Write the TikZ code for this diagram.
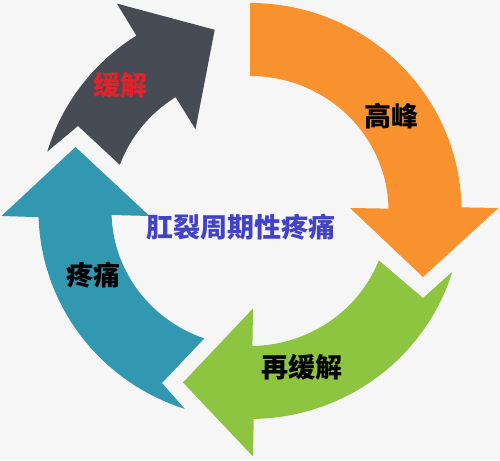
\documentclass[tikz,border=0pt]{standalone}
\usepackage{fontspec}
\newfontfamily\cjk{Noto Sans CJK SC}
\usetikzlibrary{calc}
\definecolor{bgc}{HTML}{F6F6F6}
\definecolor{orangec}{HTML}{F7922F}
\definecolor{greenc}{HTML}{8DC540}
\definecolor{tealc}{HTML}{3297B0}
\definecolor{grayc}{HTML}{464B54}
\definecolor{redc}{HTML}{E2222A}
\definecolor{titlec}{HTML}{4242C6}
\tikzset{
  lbl/.style={font=\cjk\bfseries\fontsize{27}{30}\selectfont, inner sep=0pt, text=black},
  ocirc/.style={x radius=211.5pt, y radius=208pt},
  icirc/.style={x radius=138.5pt, y radius=135pt}
}
\begin{document}
\begin{tikzpicture}[x=1pt,y=1pt]
\fill[bgc] (0,0) rectangle (500,460);
\useasboundingbox (0,0) rectangle (500,460);
\coordinate (C) at (250,249);

% orange arrow (top right, pointing down)
\fill[orangec] ($(C)+(90:211.5pt and 208pt)$)
  arc[start angle=90, end angle=1, ocirc]
  -- (498.5,252) -- (423,183) -- (350,252)
  -- ($(C)+(1:138.5pt and 135pt)$)
  arc[start angle=1, end angle=90, icirc] -- cycle;

% green arrow (bottom right, pointing left)
\fill[greenc] ($(C)+(-17:211.5pt and 208pt)$)
  arc[start angle=-17, end angle=-89, ocirc]
  -- (253,3.5) -- (183,77.5) -- (253,151.5)
  -- ($(C)+(-89:138.5pt and 135pt)$)
  arc[start angle=-89, end angle=-21.5, icirc]
  -- (423,162) -- cycle;

% teal arrow (left, pointing up)
\fill[tealc] ($(C)+(-108:211.5pt and 208pt)$)
  arc[start angle=-108, end angle=-178.3, ocirc]
  -- (1.5,244) -- (75.5,313) -- (149.5,244)
  -- ($(C)+(-178.3:138.5pt and 135pt)$)
  arc[start angle=-178.3, end angle=-109.3, icirc]
  -- (162,77) -- cycle;

% gray arrow (top left, pointing up-right)
\fill[grayc] ($(C)+(163.4:211.5pt and 208pt)$)
  arc[start angle=163.4, end angle=122.5, ocirc]
  -- (116.9,456.4) -- (214.7,430.2) -- (195.5,330.8)
  -- ($(C)+(122.5:138.5pt and 135pt)$)
  arc[start angle=122.5, end angle=160, icirc]
  -- (78,334) -- cycle;

\node[lbl, text=redc] (l1) at (120.5,374.5) {缓解};
\node[lbl] (l2) at (391.5,343.5) {高峰};
\node[lbl] (l3) at (301.5,92.5) {再缓解};
\node[lbl] (l4) at (93.5,185) {疼痛};
\node[lbl, text=titlec] (title) at (241,232.5) {肛裂周期性疼痛};
\end{tikzpicture}
\end{document}
